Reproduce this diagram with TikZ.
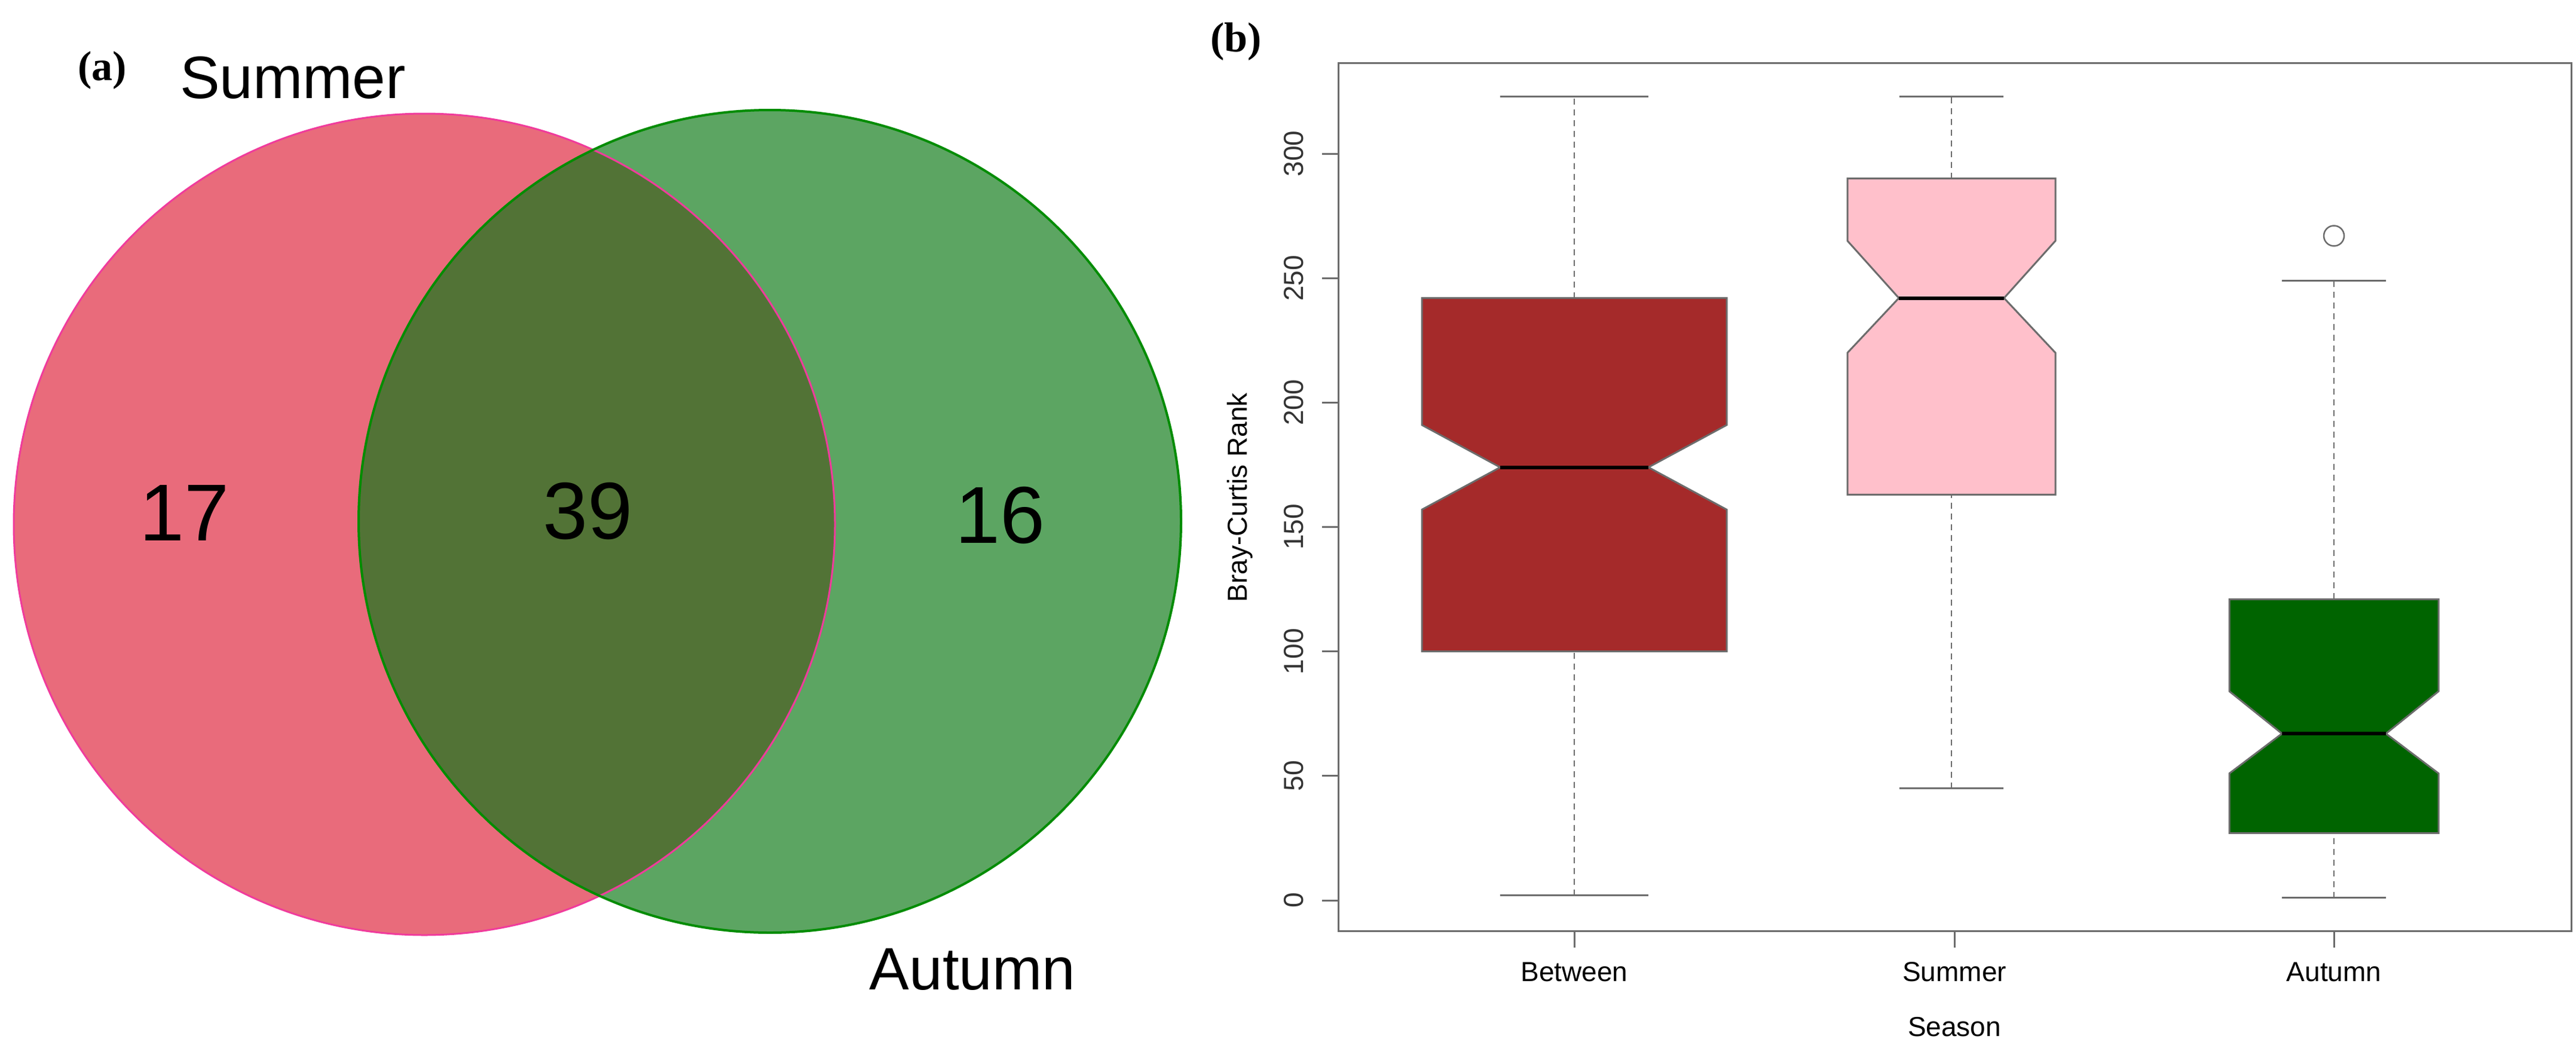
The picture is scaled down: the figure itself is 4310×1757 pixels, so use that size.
\documentclass[tikz,border=0pt]{standalone}
\usepackage{fontspec}
\setmainfont{Liberation Sans}
\newfontfamily\serifb{Liberation Serif}
\begin{document}
\begin{tikzpicture}[x=1pt,y=-1pt,
  venn/.style={font=\fontsize{135}{150}\selectfont},
  lab/.style={font=\fontsize{100}{120}\selectfont},
  panel/.style={font=\serifb\bfseries\fontsize{70}{80}\selectfont},
  tick/.style={font=\fontsize{46}{52}\selectfont, text=black!80},
  ax/.style={draw=gray!85!black, line width=3pt},
  wh/.style={draw=gray!85!black, line width=2.5pt, dash pattern=on 10pt off 8pt},
  bx/.style={draw=gray!85!black, line width=3pt},
  med/.style={draw=black, line width=6pt}]
\useasboundingbox (0,0) rectangle (4310,1757);
\fill[white] (0,0) rectangle (4310,1757);
\definecolor{vred}{HTML}{E96B7B}
\definecolor{vgreen}{HTML}{5CA562}
\definecolor{vdark}{HTML}{527336}
\definecolor{bbrown}{HTML}{A52A2A}
\definecolor{bpink}{HTML}{FFC0CB}
\definecolor{bgreen}{HTML}{006400}
% Venn
\fill[vred] (710,877) circle (687);
\fill[vgreen] (1288,872) circle (688);
\begin{scope}
\clip (710,877) circle (687);
\fill[vdark] (1288,872) circle (688);
\end{scope}
\draw[draw=magenta!70!pink, line width=3pt] (710,877) circle (687);
\draw[draw=green!55!black, line width=4pt] (1288,872) circle (688);
\node[panel] (pa) at (171,118) {(a)};
\node[lab] (ls) at (490,130) {Summer};
\node[lab] (la) at (1627,1622) {Autumn};
\node[venn] (n17) at (309,858) {17};
\node[venn] (n39) at (984,855) {39};
\node[venn] (n16) at (1674,862) {16};
% Box plot
\node[panel] (pb) at (2068,70) {(b)};
\draw[ax] (2239,105) rectangle (4302,1557);
\foreach \v in {0,50,...,300}{
  \draw[ax] (2239,{1506-4.163*\v}) -- (2212,{1506-4.163*\v});
  \node[tick, rotate=90] at (2165,{1506-4.163*\v}) {\v};
}
\node[tick, rotate=90, text=black] (yl) at (2075,832) {Bray-Curtis Rank};
\foreach \x/\t in {2634/Between,3270/Summer,3905/Autumn}{
  \draw[ax] (\x,1557) -- (\x,1585);
  \node[tick, text=black] at (\x,1626) {\t};
}
\node[tick, text=black] (xl) at (3270,1718) {Season};
% helper macro for a notched box: cx, half width, notch half width, lo, q1, nlo, med, nhi, q3, hi, colour
\newcommand\nbox[9]{%
 \def\Y##1{1506-4.163*##1}%
}
% Between
\def\cx{2634}\def\hw{255}\def\nw{124}\def\cw{124}
\draw[wh] (\cx,{1506-4.163*2}) -- (\cx,{1506-4.163*100});
\draw[wh] (\cx,{1506-4.163*242}) -- (\cx,{1506-4.163*323});
\draw[bx] (\cx-\cw,{1506-4.163*2}) -- (\cx+\cw,{1506-4.163*2});
\draw[bx] (\cx-\cw,{1506-4.163*323}) -- (\cx+\cw,{1506-4.163*323});
\filldraw[bx, fill=bbrown] (\cx-\hw,{1506-4.163*100}) -- (\cx-\hw,{1506-4.163*157}) -- (\cx-\nw,{1506-4.163*174}) -- (\cx-\hw,{1506-4.163*191}) -- (\cx-\hw,{1506-4.163*242}) -- (\cx+\hw,{1506-4.163*242}) -- (\cx+\hw,{1506-4.163*191}) -- (\cx+\nw,{1506-4.163*174}) -- (\cx+\hw,{1506-4.163*157}) -- (\cx+\hw,{1506-4.163*100}) -- cycle;
\draw[med] (\cx-\nw,{1506-4.163*174}) -- (\cx+\nw,{1506-4.163*174});
% Summer
\def\cx{3265}\def\hw{174}\def\nw{88}\def\cw{87}
\draw[wh] (\cx,{1506-4.163*45}) -- (\cx,{1506-4.163*163});
\draw[wh] (\cx,{1506-4.163*290}) -- (\cx,{1506-4.163*323});
\draw[bx] (\cx-\cw,{1506-4.163*45}) -- (\cx+\cw,{1506-4.163*45});
\draw[bx] (\cx-\cw,{1506-4.163*323}) -- (\cx+\cw,{1506-4.163*323});
\filldraw[bx, fill=bpink] (\cx-\hw,{1506-4.163*163}) -- (\cx-\hw,{1506-4.163*220}) -- (\cx-\nw,{1506-4.163*242}) -- (\cx-\hw,{1506-4.163*265}) -- (\cx-\hw,{1506-4.163*290}) -- (\cx+\hw,{1506-4.163*290}) -- (\cx+\hw,{1506-4.163*265}) -- (\cx+\nw,{1506-4.163*242}) -- (\cx+\hw,{1506-4.163*220}) -- (\cx+\hw,{1506-4.163*163}) -- cycle;
\draw[med] (\cx-\nw,{1506-4.163*242}) -- (\cx+\nw,{1506-4.163*242});
% Autumn
\def\cx{3905}\def\hw{175}\def\nw{87}\def\cw{87}
\draw[wh] (\cx,{1506-4.163*1}) -- (\cx,{1506-4.163*27});
\draw[wh] (\cx,{1506-4.163*121}) -- (\cx,{1506-4.163*249});
\draw[bx] (\cx-\cw,{1506-4.163*1}) -- (\cx+\cw,{1506-4.163*1});
\draw[bx] (\cx-\cw,{1506-4.163*249}) -- (\cx+\cw,{1506-4.163*249});
\filldraw[bx, fill=bgreen] (\cx-\hw,{1506-4.163*27}) -- (\cx-\hw,{1506-4.163*51}) -- (\cx-\nw,{1506-4.163*67}) -- (\cx-\hw,{1506-4.163*84}) -- (\cx-\hw,{1506-4.163*121}) -- (\cx+\hw,{1506-4.163*121}) -- (\cx+\hw,{1506-4.163*84}) -- (\cx+\nw,{1506-4.163*67}) -- (\cx+\hw,{1506-4.163*51}) -- (\cx+\hw,{1506-4.163*27}) -- cycle;
\draw[med] (\cx-\nw,{1506-4.163*67}) -- (\cx+\nw,{1506-4.163*67});
\draw[bx, line width=2.5pt] (\cx,{1506-4.163*267}) ellipse (17 and 17);
\end{tikzpicture}
\end{document}
